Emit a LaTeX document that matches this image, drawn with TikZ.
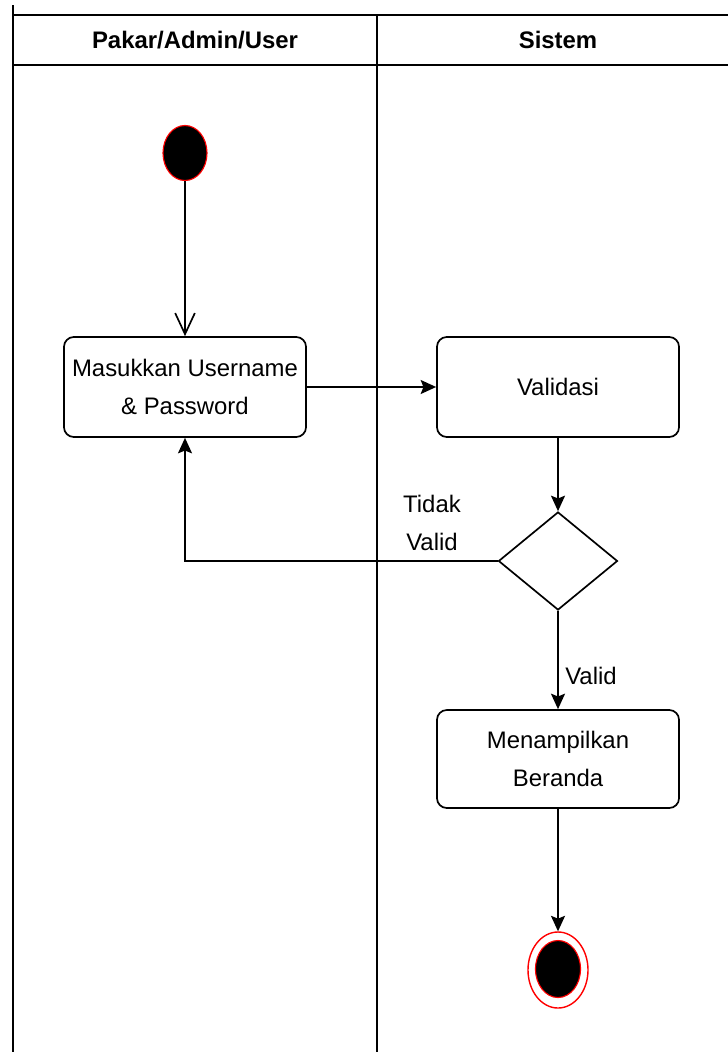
\documentclass[tikz,border=0pt]{standalone}
\usepackage{fontspec}
\setmainfont{Liberation Sans}
\usetikzlibrary{shapes.geometric,arrows.meta}

\tikzset{
	aktivitas/.style={draw, line width=1.2pt, rounded corners=7pt, minimum width=6.05cm, minimum height=2.5cm, align=center, font=\fontsize{17}{27}\selectfont},
	keputusan/.style={draw, diamond, line width=1.2pt, inner sep=0pt, minimum width=2.975cm, minimum height=2.45cm},
	awal/.style={ellipse, draw=red, fill=black, line width=0.8pt, minimum width=1.1cm, minimum height=1.375cm, inner sep=0pt},
	akhir/.style={ellipse, draw=red, line width=1pt, minimum width=1.5cm, minimum height=1.9cm, inner sep=0pt},
	judul/.style={font=\fontsize{17}{20}\selectfont\bfseries},
	ket/.style={align=center, font=\fontsize{17}{27}\selectfont},
	alur/.style={line width=1.2pt, -{Stealth[length=11pt,width=10pt,inset=2pt]}},
	alurbuka/.style={line width=1.2pt, -{Straight Barb[length=15pt,width=14pt]}}
}

\begin{document}
\begin{tikzpicture}[x=0.025cm, y=-0.025cm]
	\useasboundingbox (0,0) rectangle (728,1052);
	% Define the swimlanes
	\draw[line width=1.2pt] (13,5) -- (13,1052);
	\draw[line width=1.2pt] (377,15) -- (377,1052);
	\foreach \y in {15,65} \draw[line width=1.2pt] (13,\y) -- (728,\y);
	\node[judul] (lajur1) at (195,40) {Pakar/Admin/User};
	\node[judul] (lajur2) at (558,40) {Sistem};
	% Add the activities
	\node[awal] (mulai) at (185,153) {};
	\node[aktivitas] (masuk) at (185,387) {Masukkan Username\\\& Password};
	\node[aktivitas] (validasi) at (558,387) {Validasi};
	\node[keputusan] (cek) at (558,561) {};
	\node[aktivitas, minimum height=2.45cm] (beranda) at (558,759) {Menampilkan\\Beranda};
	\node[akhir] (selesai) at (558,970) {};
	\node[ellipse, draw=red, fill=black, line width=0.8pt, minimum width=1.125cm, minimum height=1.425cm, inner sep=0pt] (selesaiisi) at (558,969) {};
	% Labels
	\node[ket] (tidak) at (432,523) {Tidak\\Valid};
	\node[ket] (valid) at (591,676) {Valid};
	% Connect them
	\draw[alurbuka] (mulai) -- (masuk);
	\draw[alur] (masuk) -- (validasi);
	\draw[alur] (validasi) -- (cek);
	\draw[alur] (cek.west) -| (masuk.south);
	\draw[alur] (cek) -- (beranda);
	\draw[alur] (beranda) -- (selesai);
\end{tikzpicture}
\end{document}
